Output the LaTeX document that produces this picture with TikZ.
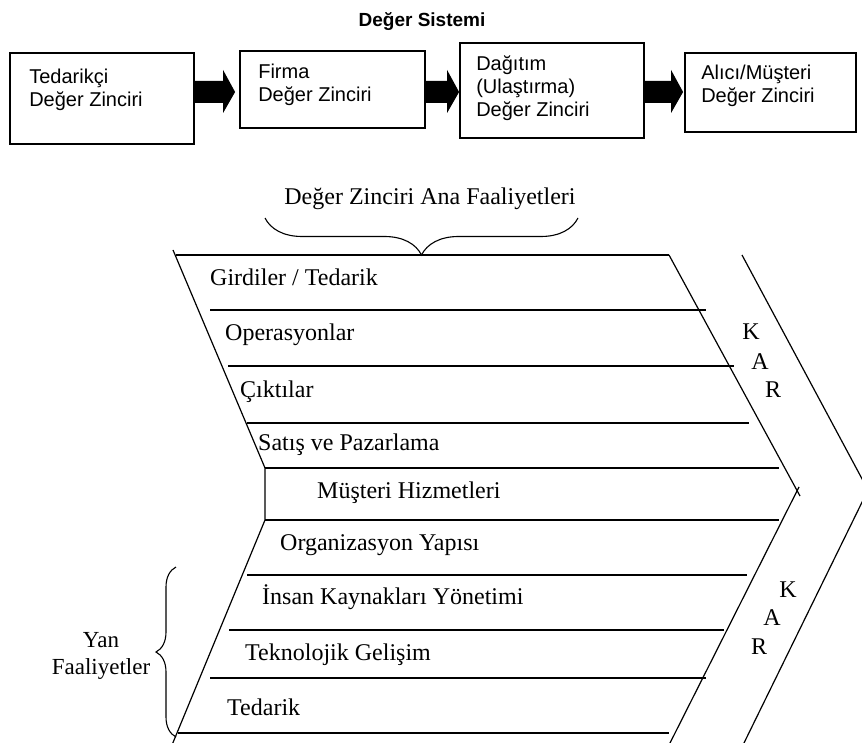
\documentclass[tikz,border=0pt]{standalone}
\usepackage{fontspec}
\setmainfont{Liberation Serif}
\setsansfont{Liberation Sans}
\usepackage{tikz}
\usetikzlibrary{calc, decorations.pathreplacing}
\tikzset{
  % Deger sistemi
  vs-box/.style={rectangle, draw=black, line width=1.8pt, inner sep=0pt},
  vs-text/.style={anchor=north west, inner sep=0pt, align=left, font=\sffamily\fontsize{20}{23}\selectfont},
  vs-title/.style={anchor=base, inner sep=0pt, font=\sffamily\bfseries\fontsize{19}{22}\selectfont},
  % Deger zinciri
  dz-line/.style={line width=1.2pt},
  dz-text/.style={anchor=base west, inner sep=0pt, font=\fontsize{24}{28}\selectfont},
  dz-kar/.style={inner sep=0pt, font=\fontsize{24}{28}\selectfont},
  dz-brace/.style={decorate, line width=1.1pt}
}
% block arrow between two boxes: [gap]{from}{to}
\newcommand{\blockarrow}[3][1]{%
  \fill ($(#2.east |- 0,81)$) -- ($(#3.west |- 0,81)+(-12-#1,0)$) -- ($(#3.west |- 0,70)+(-12-#1,0)$)
    -- ($(#3.west |- 0,92)+(-#1,0)$) -- ($(#3.west |- 0,113)+(-12-#1,0)$)
    -- ($(#3.west |- 0,103)+(-12-#1,0)$) -- ($(#2.east |- 0,103)$) -- cycle;}

\begin{document}
\begin{tikzpicture}[x=1pt, y=-1pt]
    \useasboundingbox (0,0) rectangle (862,743);
    \clip (0,0) rectangle (862,743);

    % --- Top: Deger Sistemi ---
    \node[vs-title] (title) at (422,27) {Değer Sistemi};
    \node[vs-box, minimum width=184, minimum height=91] (tedarikci) at (102,98.5) {};
    \node[vs-box, minimum width=185, minimum height=77] (firma) at (332.5,89.5) {};
    \node[vs-box, minimum width=184, minimum height=95] (dagitim) at (552,90.5) {};
    \node[vs-box, minimum width=171, minimum height=79] (alici) at (770.5,92.5) {};
    \node[vs-text] (tedarikci-t) at ($(tedarikci.north west)+(20,17)$) {Tedarikçi\\Değer Zinciri};
    \node[vs-text] (firma-t) at ($(firma.north west)+(19,14)$) {Firma\\Değer Zinciri};
    \node[vs-text] (dagitim-t) at ($(dagitim.north west)+(17,13)$) {Dağıtım\\(Ulaştırma)\\Değer Zinciri};
    \node[vs-text] (alici-t) at ($(alici.north west)+(17,13)$) {Alıcı/Müşteri\\Değer Zinciri};
    % Arrows
    \blockarrow[4]{tedarikci}{firma}
    \blockarrow[0]{firma}{dagitim}
    \blockarrow[1]{dagitim}{alici}

    % --- Ana faaliyetler brace ---
    \node[dz-text, anchor=base] (ana) at (430,205) {Değer Zinciri Ana Faaliyetleri};
    \draw[dz-brace, decoration={brace, amplitude=37pt}] (578,218) -- (265,218);

    % --- Chevron ---
    \foreach \y/\xa/\xb in {255/176/669, 310/210/706, 366/228/734, 423/247/749, 468/265/779,
                            520/265/779, 575/247/747, 630/229/724, 678/210/706, 733/178/669}
        \draw[dz-line] (\xa,\y) -- (\xb,\y);
    \draw[dz-line] (173,250) -- (265,468) -- (265,520) -- (172,745);
    \draw[dz-line] (669,255) -- (800,496);
    \draw[dz-line] (799,487) -- (669,745);
    \draw[dz-line] (742,255) -- (868,490) -- (743,745);

    % Activities
    \node[dz-text] (girdiler) at (210,286) {Girdiler / Tedarik};
    \node[dz-text] (operasyon) at (225,341) {Operasyonlar};
    \node[dz-text] (ciktilar) at (240,397) {Çıktılar};
    \node[dz-text] (satis) at (258,450) {Satış ve Pazarlama};
    \node[dz-text] (musteri) at (317,498) {Müşteri Hizmetleri};
    \node[dz-text] (organizasyon) at (280,550) {Organizasyon Yapısı};
    \node[dz-text] (insan) at (262,604) {İnsan Kaynakları Yönetimi};
    \node[dz-text] (teknoloji) at (245,660) {Teknolojik Gelişim};
    \node[dz-text] (tedarik) at (227,715) {Tedarik};

    % KAR
    \node[dz-kar] (kar-k1) at (751,332) {K};
    \node[dz-kar] (kar-a1) at (760,362) {A};
    \node[dz-kar] (kar-r1) at (773,390) {R};
    \node[dz-kar] (kar-k2) at (788,590) {K};
    \node[dz-kar] (kar-a2) at (772,618) {A};
    \node[dz-kar] (kar-r2) at (759,647) {R};

    % --- Yan faaliyetler brace ---
    \draw[dz-brace, decoration={brace, amplitude=20pt}] (176,737) -- (176,567);
    \node[dz-kar, align=center, font=\fontsize{23}{27}\selectfont] (yan) at (101,656) {Yan\\Faaliyetler};
\end{tikzpicture}
\end{document}
